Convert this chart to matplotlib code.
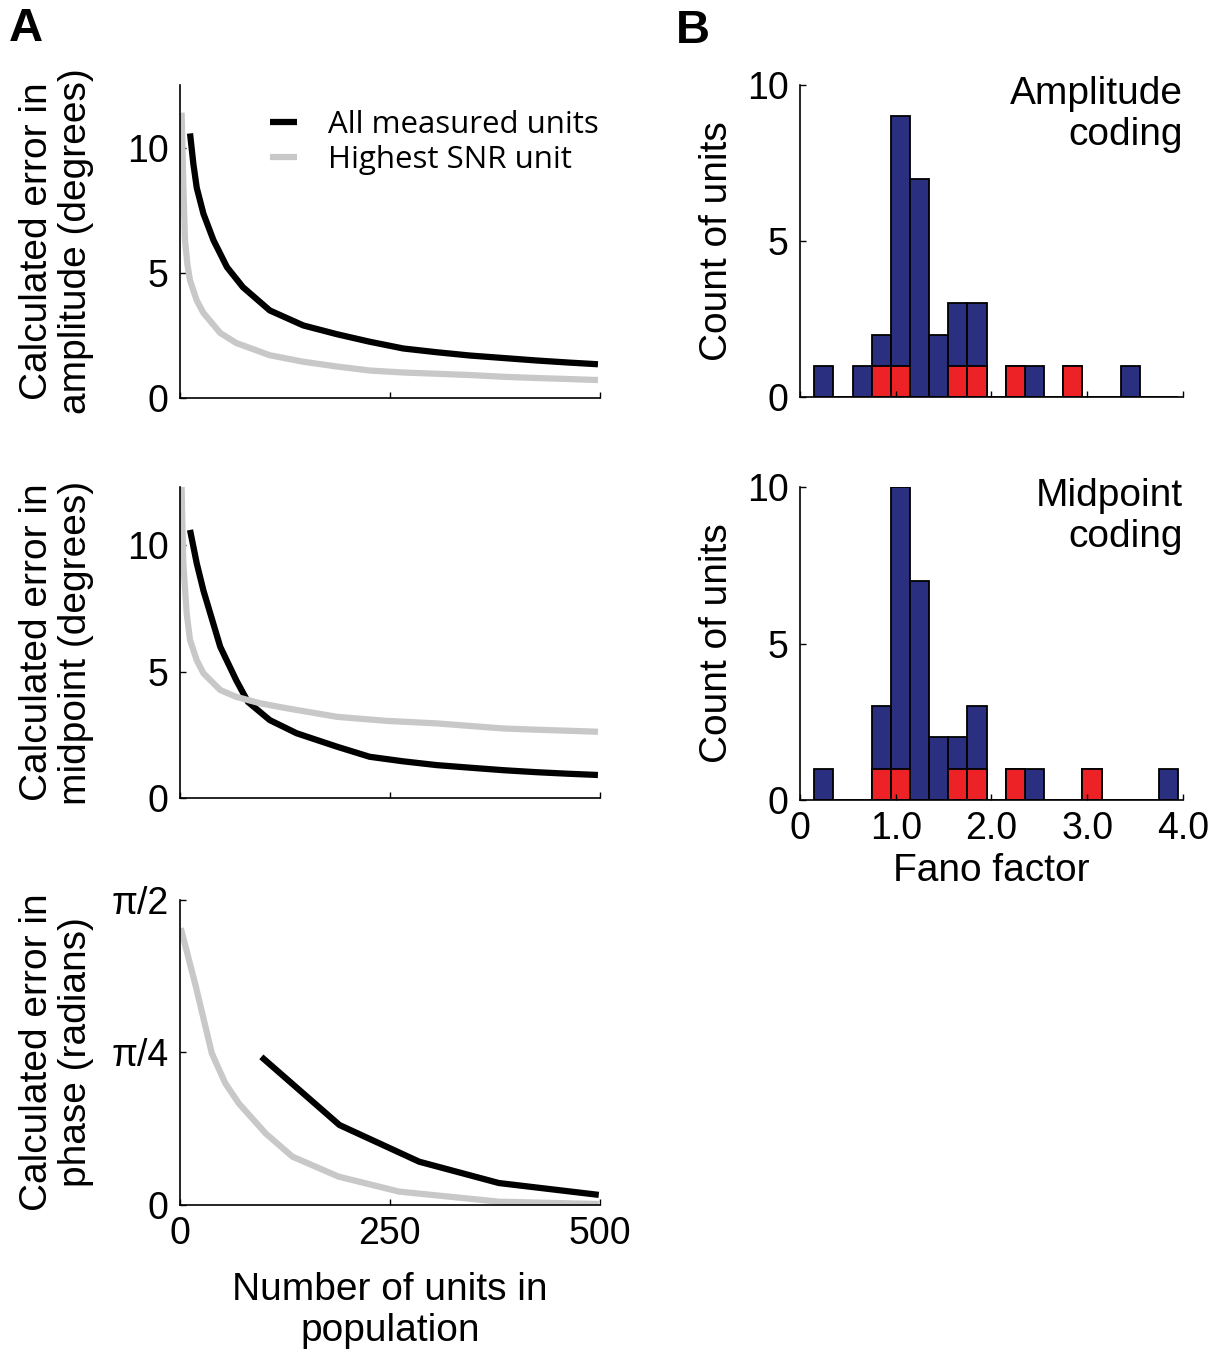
import numpy as np
import matplotlib
matplotlib.use("Agg")
import matplotlib.pyplot as plt

plt.rcParams['font.family'] = ['Liberation Sans', 'DejaVu Sans']

# ---- panel A data ----
amp_all_n = [12, 16, 20, 28, 40, 56, 75, 107, 147, 187, 226, 266, 306, 345, 385, 425, 462, 498]
amp_all_err = [10.57, 9.35, 8.4, 7.36, 6.3, 5.23, 4.43, 3.5, 2.9, 2.55, 2.25, 1.98, 1.83, 1.7, 1.6, 1.5, 1.42, 1.35]
amp_snr_n = [2, 4, 6, 9, 12, 20, 28, 48, 67, 107, 147, 187, 226, 266, 306, 345, 385, 425, 462, 498]
amp_snr_err = [11.4, 8.5, 6.3, 5.3, 4.7, 3.9, 3.4, 2.6, 2.2, 1.71, 1.45, 1.26, 1.1, 1.02, 0.97, 0.92, 0.85, 0.8, 0.76, 0.72]

mid_all_n = [12, 20, 28, 48, 67, 81, 107, 139, 187, 226, 266, 306, 345, 385, 425, 462, 498]
mid_all_err = [10.6, 9.28, 8.2, 5.98, 4.66, 3.8, 3.08, 2.56, 2.03, 1.63, 1.45, 1.3, 1.2, 1.1, 1.02, 0.96, 0.91]
mid_snr_n = [2, 3, 4, 8, 12, 20, 28, 48, 67, 95, 127, 187, 246, 306, 345, 385, 425, 462, 498]
mid_snr_err = [12.3, 10.6, 9.28, 7.3, 6.25, 5.45, 4.93, 4.27, 4.0, 3.75, 3.55, 3.21, 3.05, 2.95, 2.85, 2.75, 2.7, 2.66, 2.62]

ph_all_n = [97, 190, 285, 380, 499]
ph_all_err = [0.763, 0.412, 0.223, 0.113, 0.052]
ph_snr_n = [1, 19, 38, 54, 70, 102, 134, 189, 261, 380, 499]
ph_snr_err = [1.426, 1.124, 0.781, 0.627, 0.524, 0.369, 0.249, 0.146, 0.069, 0.017, 0.005]

# ---- panel B data: Fano factor histograms (bins of 0.2 starting at 0.15) ----
bin_left = np.round(np.arange(0.15, 3.9, 0.2), 2)
amp_total = [1, 0, 1, 2, 9, 7, 2, 3, 3, 0, 1, 1, 0, 1, 0, 0, 1, 0, 0]
amp_red = [0, 0, 0, 1, 1, 0, 0, 1, 1, 0, 1, 0, 0, 1, 0, 0, 0, 0, 0]
mid_total = [1, 0, 0, 3, 10, 7, 2, 2, 3, 0, 1, 1, 0, 0, 1, 0, 0, 0, 1]
mid_red = [0, 0, 0, 1, 1, 0, 0, 1, 1, 0, 1, 0, 0, 0, 1, 0, 0, 0, 0]

BLACK = '#000000'
GRAY = '#c8c8c8'
BLUE = '#2b2f80'
RED = '#ec2227'
FS = 28

fig = plt.figure(figsize=(12.2, 13.53), dpi=100)

ax1 = fig.add_axes([0.1475, 0.7058, 0.344, 0.2313])
ax2 = fig.add_axes([0.1475, 0.4102, 0.344, 0.2299])
ax3 = fig.add_axes([0.1475, 0.1094, 0.344, 0.2254])
bx1 = fig.add_axes([0.6557, 0.7066, 0.3139, 0.2306])
bx2 = fig.add_axes([0.6557, 0.4087, 0.3139, 0.2313])


def style(ax):
    for s in ['top', 'right']:
        ax.spines[s].set_visible(False)
    for s in ['left', 'bottom']:
        ax.spines[s].set_linewidth(1.2)
    ax.tick_params(direction='in', length=4, width=1, labelsize=FS - 1, pad=8)


for ax in (ax1, ax2, ax3):
    style(ax)
    ax.set_xlim(0, 500)
    ax.set_xticks([0, 250, 500])

l1, = ax1.plot(amp_all_n, amp_all_err, color=BLACK, lw=4.5, solid_capstyle='butt')
l2, = ax1.plot(amp_snr_n, amp_snr_err, color=GRAY, lw=4.5, solid_capstyle='butt')
ax1.set_ylim(0, 12.5)
ax1.set_yticks([0, 5, 10])
ax1.set_xticklabels([])
ax1.set_ylabel('Calculated error in\namplitude (degrees)', fontsize=FS, linespacing=1.1)
ax1.legend([l1, l2], ['All measured units', 'Highest SNR unit'], loc='upper right',
           bbox_to_anchor=(1.065, 1.01), frameon=False,
           prop={'family': 'Open Sans', 'size': 22.5}, handlelength=0.85,
           handletextpad=1.0, labelspacing=0.15)

ax2.plot(mid_all_n, mid_all_err, color=BLACK, lw=4.5, solid_capstyle='butt')
ax2.plot(mid_snr_n, mid_snr_err, color=GRAY, lw=4.5, solid_capstyle='butt')
ax2.set_ylim(0, 12.3)
ax2.set_yticks([0, 5, 10])
ax2.set_xticklabels([])
ax2.set_ylabel('Calculated error in\nmidpoint (degrees)', fontsize=FS, linespacing=1.1)

ax3.plot(ph_all_n, ph_all_err, color=BLACK, lw=4.5, solid_capstyle='butt')
ax3.plot(ph_snr_n, ph_snr_err, color=GRAY, lw=4.5, solid_capstyle='butt')
ax3.set_ylim(0, np.pi / 2)
ax3.set_yticks([0, np.pi / 4, np.pi / 2])
ax3.set_yticklabels(['0', 'π/4', 'π/2'])
ax3.set_ylabel('Calculated error in\nphase (radians)', fontsize=FS, linespacing=1.1)
ax3.set_xlabel('Number of units in\npopulation', fontsize=FS, labelpad=14, linespacing=1.2)

for ax in (ax1, ax2, ax3):
    ax.yaxis.set_label_coords(-0.205, 0.5)


def hist(ax, total, red, label):
    style(ax)
    ax.bar(bin_left, total, width=0.2, align='edge', color=BLUE, edgecolor='black', linewidth=1.3)
    reds = np.array(red)
    m = reds > 0
    ax.bar(bin_left[m], reds[m], width=0.2, align='edge', color=RED, edgecolor='black', linewidth=1.3)
    ax.set_xlim(0, 4.0)
    ax.set_ylim(0, 10)
    ax.set_yticks([0, 5, 10])
    ax.set_xticks([0, 1, 2, 3, 4])
    ax.set_ylabel('Count of units', fontsize=FS)
    ax.yaxis.set_label_coords(-0.17, 0.5)
    ax.text(1.0, 1.03, label, transform=ax.transAxes, ha='right', va='top',
            fontsize=FS, linespacing=1.2)


hist(bx1, amp_total, amp_red, 'Amplitude\ncoding')
bx1.set_xticklabels([])
hist(bx2, mid_total, mid_red, 'Midpoint\ncoding')
bx2.set_xticklabels(['0', '1.0', '2.0', '3.0', '4.0'])
bx2.set_xlabel('Fano factor', fontsize=FS, labelpad=4)

fig.text(0.007, 0.995, 'A', fontsize=34, fontweight='bold', va='top')
fig.text(0.554, 0.993, 'B', fontsize=34, fontweight='bold', va='top')

fig.savefig('out.png', dpi=100)
